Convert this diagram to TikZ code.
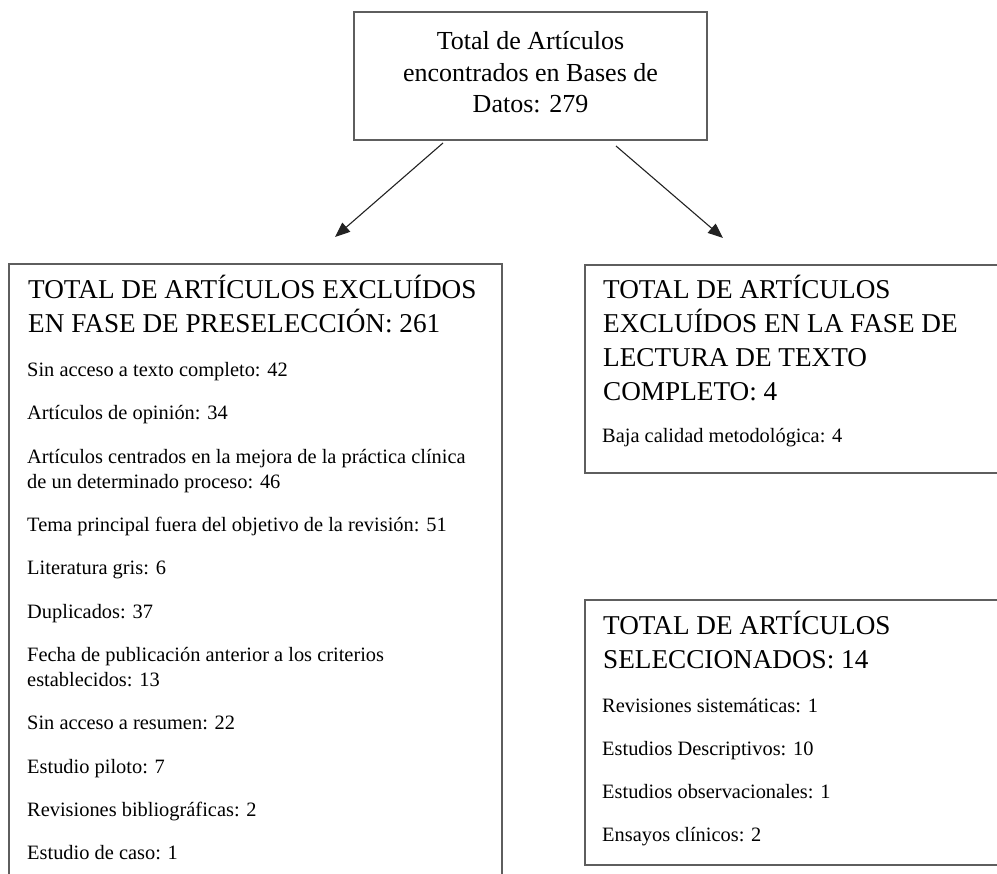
\documentclass[tikz,border=0pt]{standalone}
\usepackage{fontspec}
\setmainfont{Liberation Serif}
\usetikzlibrary{arrows.meta}
\definecolor{boxgray}{HTML}{5E5E5E}
\definecolor{arrowc}{HTML}{222222}
\tikzset{
  frame/.style={draw=boxgray, line width=1.4pt, rectangle, inner sep=0pt},
  bodytxt/.style={anchor=west, inner sep=0pt, text height=13.5pt, text depth=0pt, font=\fontsize{20.4}{25}\selectfont},
  headtxt/.style={anchor=west, inner sep=0pt, text height=18pt, text depth=0pt, font=\fontsize{27.2}{33}\selectfont},
  toptxt/.style={anchor=center, inner sep=0pt, text height=17.2pt, text depth=0pt, font=\fontsize{26}{31.5}\selectfont},
  flow/.style={draw=arrowc, line width=1.1pt, -{Triangle[length=15pt,width=12pt]}}
}
\begin{document}
\begin{tikzpicture}[x=1pt,y=-1pt]
\useasboundingbox (0,0) rectangle (997,874);
\clip (0,0) rectangle (997,874);
% boxes
\node[frame, minimum width=353pt, minimum height=128pt] (top) at (530.5,76) {};
\node[frame, minimum width=493pt, minimum height=640pt] (left) at (255.5,584) {};
\node[frame, minimum width=440pt, minimum height=208pt] (rtop) at (805,369) {};
\node[frame, minimum width=440pt, minimum height=265pt] (rbot) at (805,732.5) {};
% top text
\node[toptxt] (t1) at (530.5,41) {Total de Artículos};
\node[toptxt] (t2) at (530.5,72.5) {encontrados en Bases de};
\node[toptxt] (t3) at (530.5,104) {Datos: 279};
% left box
\node[headtxt] (lh1) at (28,290) {TOTAL DE ARTÍCULOS EXCLUÍDOS};
\node[headtxt] (lh2) at (28,324) {EN FASE DE PRESELECCIÓN: 261};
\node[bodytxt] (l1) at (27,370) {Sin acceso a texto completo: 42};
\node[bodytxt] (l2) at (27,413) {Artículos de opinión: 34};
\node[bodytxt] (l3a) at (27,457) {Artículos centrados en la mejora de la práctica clínica};
\node[bodytxt] (l3b) at (27,482) {de un determinado proceso: 46};
\node[bodytxt] (l4) at (27,525) {Tema principal fuera del objetivo de la revisión: 51};
\node[bodytxt] (l5) at (27,568) {Literatura gris: 6};
\node[bodytxt] (l6) at (27,612) {Duplicados: 37};
\node[bodytxt] (l7a) at (27,655) {Fecha de publicación anterior a los criterios};
\node[bodytxt] (l7b) at (27,680) {establecidos: 13};
\node[bodytxt] (l8) at (27,723) {Sin acceso a resumen: 22};
\node[bodytxt] (l9) at (27,767) {Estudio piloto: 7};
\node[bodytxt] (l10) at (27,810) {Revisiones bibliográficas: 2};
\node[bodytxt] (l11) at (27,853) {Estudio de caso: 1};
% right top box
\node[headtxt] (rh1) at (603,290) {TOTAL DE ARTÍCULOS};
\node[headtxt] (rh2) at (603,324) {EXCLUÍDOS EN LA FASE DE};
\node[headtxt] (rh3) at (603,358) {LECTURA DE TEXTO};
\node[headtxt] (rh4) at (603,392) {COMPLETO: 4};
\node[bodytxt] (r1) at (602,436) {Baja calidad metodológica: 4};
% right bottom box
\node[headtxt] (sh1) at (603,625) {TOTAL DE ARTÍCULOS};
\node[headtxt] (sh2) at (603,659) {SELECCIONADOS: 14};
\node[bodytxt] (s1) at (602,706) {Revisiones sistemáticas: 1};
\node[bodytxt] (s2) at (602,749) {Estudios Descriptivos: 10};
\node[bodytxt] (s3) at (602,792) {Estudios observacionales: 1};
\node[bodytxt] (s4) at (602,835) {Ensayos clínicos: 2};
% arrows
\coordinate (a1s) at (443,143);
\coordinate (a1e) at (335,237);
\coordinate (a2s) at (616,146);
\coordinate (a2e) at (723,238);
\draw[flow] (a1s) -- (a1e);
\draw[flow] (a2s) -- (a2e);
\end{tikzpicture}
\end{document}
